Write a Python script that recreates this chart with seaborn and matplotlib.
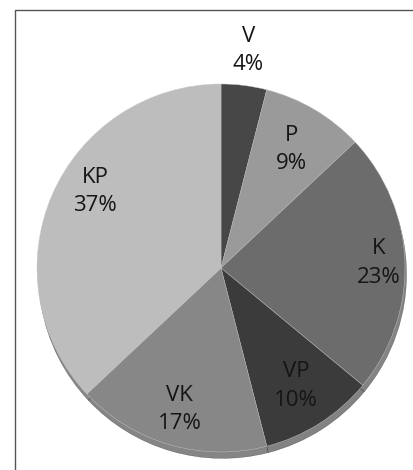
import numpy as np
import matplotlib.pyplot as plt
import seaborn as sns
from matplotlib.patches import Rectangle

# data
categories = ["V", "P", "K", "VP", "VK", "KP"]
shares = [4, 9, 23, 10, 17, 37]
pct_labels = ["4%", "9%", "23%", "10%", "17%", "37%"]

# style
colors = ["#474747", "#9a9a9a", "#6c6c6c", "#3b3b3b", "#878787", "#bdbdbd"]
label_dist = [1.19, 0.75, 0.86, 0.76, 0.80, 0.80]
label_shift = [0, 0, 0, 0, 0, -8]  # degrees

sns.set_style("white")
plt.rcParams['font.family'] = ['Open Sans', 'DejaVu Sans']

fig = plt.figure(figsize=(4.14, 4.70), dpi=100)
R = 184.0
cx, cy = 221.0, 268.0
lim = 1.3
ax = fig.add_axes([(cx - R * lim) / 414, (470 - cy - R * lim) / 470,
                   2 * lim * R / 414, 2 * lim * R / 470])

wedges, _ = ax.pie(shares, colors=colors, startangle=90, counterclock=False,
                   radius=1, wedgeprops=dict(linewidth=0.3, edgecolor="#c8c8c8"),
                   shadow=dict(ox=0.006, oy=-0.025, shade=0.9))

for w, cat, pct, d, s in zip(wedges, categories, pct_labels, label_dist, label_shift):
    ang = np.deg2rad((w.theta1 + w.theta2) / 2 + s)
    ax.text(d * np.cos(ang), d * np.sin(ang), f"{cat}\n{pct}",
            ha="center", va="center", fontsize=16, color="#151515",
            linespacing=1.45)

ax.set_xlim(-lim, lim)
ax.set_ylim(-lim, lim)
ax.set_aspect("equal")
ax.axis("off")

# frame around the picture
fig.patches.append(Rectangle((15 / 414, -0.1), 1.2, 1 - 10 / 470 + 0.1,
                             transform=fig.transFigure, fill=False,
                             edgecolor="#555555", linewidth=1.0, zorder=-1))

plt.savefig("out.png", dpi=100)
